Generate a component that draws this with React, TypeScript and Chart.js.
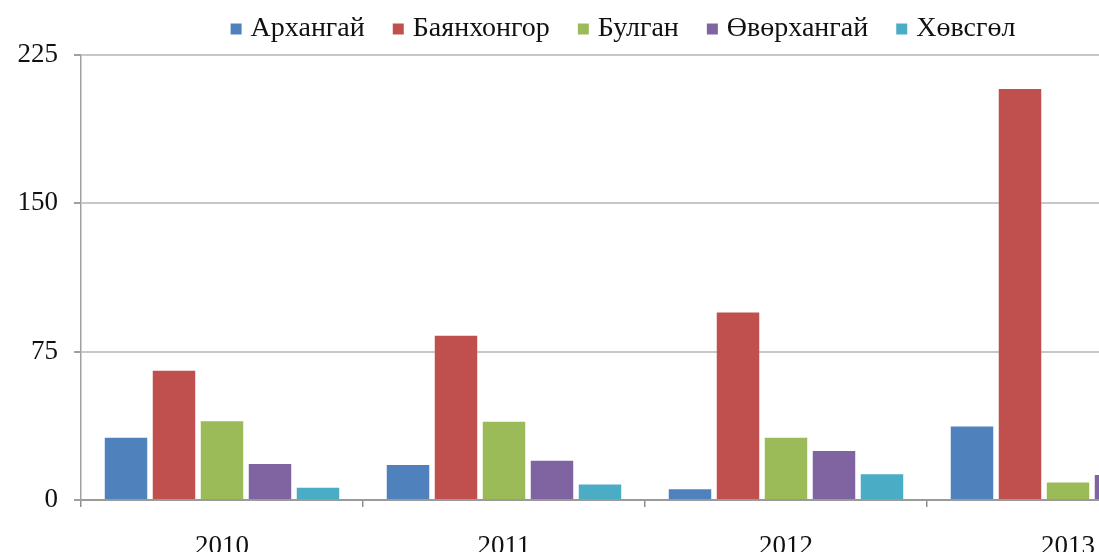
import React, { useEffect, useRef } from "react";
import { Chart, registerables } from "chart.js";

Chart.register(...registerables);

// ---- data ----
const categories = ["2010", "2011", "2012", "2013"];
const seriesNames = ["Архангай", "Баянхонгор", "Булган", "Өвөрхангай", "Хөвсгөл"];
const arkhangai = [31.5, 17.7, 5.4, 37.1];
const bayankhongor = [65.4, 83.1, 94.8, 207.8];
const bulgan = [39.8, 39.6, 31.5, 8.8];
const uvurkhangai = [18.2, 19.9, 24.8, 12.6];
const khuvsgul = [6.2, 7.9, 13.0, null]; // 2013 value falls outside the visible picture
const seriesValues = [arkhangai, bayankhongor, bulgan, uvurkhangai, khuvsgul];
const seriesColors = ["#4F81BD", "#C0504D", "#9BBB59", "#8064A2", "#4BACC6"];
const yTicks = [0, 75, 150, 225];

const FONT = "'Liberation Serif', 'Times New Roman', serif";

const legendPlacement = {
  id: "legendPlacement",
  beforeLayout(chart: any) {
    const legend = chart.legend;
    if (!legend || legend.__patched) return;
    const fit = legend.fit;
    legend.fit = function () {
      fit.call(this);
      this.height = 55;
    };
    legend.__patched = true;
  },
  afterLayout(chart: any) {
    const lg = chart.legend;
    if (!lg) return;
    lg.left += 21;
    lg.right += 21;
    lg.top -= 18;
  },
};

export default function App() {
  const ref = useRef<HTMLCanvasElement>(null);

  useEffect(() => {
    if (!ref.current) return;
    const chart = new Chart(ref.current, {
      type: "bar",
      data: {
        labels: categories,
        datasets: seriesNames.map((name, i) => ({
          label: name,
          data: seriesValues[i],
          backgroundColor: seriesColors[i],
          borderWidth: 0,
          categoryPercentage: 0.851,
          barPercentage: 0.885,
        })),
      },
      options: {
        responsive: false,
        animation: false,
        devicePixelRatio: 1,
        layout: { padding: { left: 0, right: 0, top: 0, bottom: 0 } },
        plugins: {
          tooltip: { enabled: false },
          legend: {
            position: "top",
            align: "center",
            labels: {
              usePointStyle: true,
              pointStyle: "rect",
              boxWidth: 1,
              boxHeight: 11,
              padding: 33,
              color: "#111",
              font: { family: FONT, size: 28 },
            },
          },
        },
        scales: {
          x: {
            afterFit: (s: any) => {
              s.height = 60;
            },
            grid: {
              display: true,
              drawOnChartArea: false,
              drawTicks: true,
              tickLength: 7,
              offset: true,
              color: "#8f8f8f",
              lineWidth: 1.5,
            },
            border: { display: true, color: "#9a9a9a", width: 1.5 },
            ticks: {
              padding: 24,
              color: "#111",
              maxRotation: 0,
              autoSkip: false,
              font: { family: FONT, size: 27 },
            },
          },
          y: {
            min: 0,
            max: 225,
            afterBuildTicks: (s: any) => {
              s.ticks = yTicks.map((v) => ({ value: v }));
            },
            afterFit: (s: any) => {
              s.width = 81;
            },
            grid: {
              color: (ctx: any) => (ctx.tick && ctx.tick.value === 0 ? "#9a9a9a" : "#c8c8c8"),
              lineWidth: 2,
              drawTicks: true,
              tickLength: 7,
              tickColor: "#a0a0a0",
            },
            border: { display: true, color: "#a0a0a0", width: 1.5 },
            ticks: {
              padding: 16,
              color: "#111",
              font: { family: FONT, size: 27 },
            },
          },
        },
      },
      plugins: [legendPlacement],
    });
    return () => chart.destroy();
  }, []);

  return (
    <div
      style={{
        position: "fixed",
        left: 0,
        top: 0,
        width: 1099,
        height: 552,
        overflow: "hidden",
        background: "#fff",
      }}
    >
      <canvas
        ref={ref}
        width={1209}
        height={560}
        style={{ display: "block", width: 1209, height: 560 }}
      />
    </div>
  );
}
